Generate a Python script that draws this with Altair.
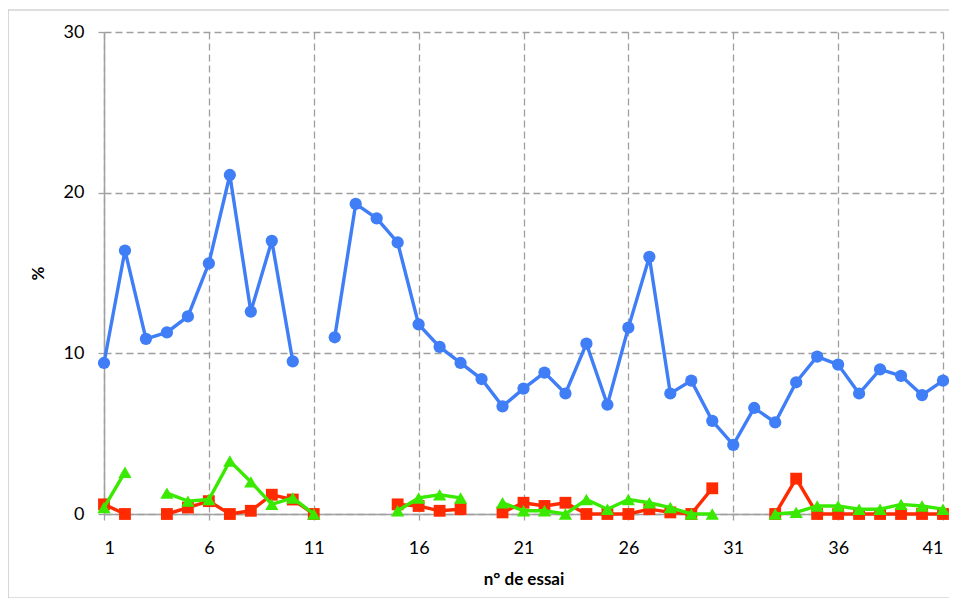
import altair as alt
import pandas as pd

trials = list(range(1, 42))
blue = [9.4, 16.4, 10.9, 11.3, 12.3, 15.6, 21.1, 12.6, 17.0, 9.5, None,
        11.0, 19.3, 18.4, 16.9, 11.8, 10.4, 9.4, 8.4, 6.7, 7.8, 8.8, 7.5,
        10.6, 6.8, 11.6, 16.0, 7.5, 8.3, 5.8, 4.3, 6.6, 5.7, 8.2, 9.8, 9.3,
        7.5, 9.0, 8.6, 7.4, 8.3]
red = [0.6, 0.0, None, 0.0, 0.4, 0.8, 0.0, 0.2, 1.2, 0.9, 0.0,
       None, None, None, 0.6, 0.5, 0.2, 0.3, None,
       0.1, 0.7, 0.5, 0.7, 0.0, 0.0, 0.0, 0.3, 0.1, 0.0, 1.6,
       None, None, 0.0, 2.2, 0.0, 0.0, 0.0, 0.0, 0.0, 0.0, 0.0]
green = [0.4, 2.6, None, 1.3, 0.8, 0.9, 3.3, 2.0, 0.6, 1.0, 0.0,
         None, None, None, 0.2, 1.0, 1.2, 1.0, None,
         0.7, 0.2, 0.2, 0.0, 0.9, 0.3, 0.9, 0.7, 0.4, 0.0, 0.0,
         None, None, 0.0, 0.1, 0.5, 0.5, 0.3, 0.3, 0.6, 0.5, 0.3]

series = [
    ("A", blue, "#3F7EF6", "circle", 150),
    ("B", red, "#FF2A00", "square", 140),
    ("C", green, "#39EA00", "triangle-up", 175),
]

FONT = "Lato"

rows = []
for name, vals, _, _, _ in series:
    seg = 0
    prev_none = True
    for x, v in zip(trials, vals):
        if v is None:
            prev_none = True
            continue
        if prev_none:
            seg += 1
        prev_none = False
        rows.append({"x": x, "v": v, "s": name, "seg": f"{name}{seg}"})
df = pd.DataFrame(rows)

xscale = alt.Scale(domain=[1, 41], nice=False, zero=False)
yscale = alt.Scale(domain=[0, 30], nice=False)

xaxis = alt.Axis(values=[1, 6, 11, 16, 21, 26, 31, 36, 41], title="n° de essai",
                 grid=True, gridDash=[7, 4], gridColor="#9E9E9E", gridWidth=1.3,
                 domainColor="#A0A0A0", domainWidth=1.5, tickColor="#A0A0A0",
                 tickSize=6, tickWidth=1.3, labelPadding=19, labelFontSize=18,
                 labelFont=FONT, labelColor="#000", titleFont=FONT,
                 titleFontSize=17, titleFontWeight="bold", titleColor="#000",
                 titlePadding=14)
yaxis = alt.Axis(values=[0, 10, 20, 30], title="%", grid=True, gridDash=[7, 4],
                 gridColor="#9E9E9E", gridWidth=1.3, domainColor="#A0A0A0",
                 domainWidth=1.5, tickColor="#A0A0A0", tickSize=6, tickWidth=1.3,
                 labelPadding=14, labelFontSize=18, labelFont=FONT,
                 labelColor="#000", titleFont=FONT, titleFontSize=17,
                 titleFontWeight="bold", titleColor="#000", titlePadding=16)

layers = []
frame = alt.Chart(pd.DataFrame({"a": [0]})).mark_rect(
    fill=None, stroke="#BDBDBD", strokeWidth=1.2
).encode(x=alt.value(-96), x2=alt.value(846), y=alt.value(-22), y2=alt.value(566))
layers.append(frame)

base = alt.Chart(df)
first = True
for name, _, color, shape, size in series:
    sub = base.transform_filter(alt.datum.s == name)
    if first:
        xe = alt.X("x:Q", scale=xscale, axis=xaxis)
        ye = alt.Y("v:Q", scale=yscale, axis=yaxis)
        first = False
    else:
        xe = alt.X("x:Q", scale=xscale)
        ye = alt.Y("v:Q", scale=yscale)
    line = sub.mark_line(color=color, strokeWidth=3.4).encode(x=xe, y=ye, detail="seg:N")
    pts = sub.mark_point(color=color, filled=True, opacity=1, shape=shape, size=size).encode(x=xe, y=ye)
    layers += [line, pts]

chart = alt.layer(*layers).properties(
    width=839, height=482,
    autosize=alt.AutoSizeParams(type="none"),
    padding={"left": 96, "top": 24, "right": 6, "bottom": 84},
).configure_view(stroke=None)

chart.save("out.html", embed_options={"renderer": "svg", "actions": False})
